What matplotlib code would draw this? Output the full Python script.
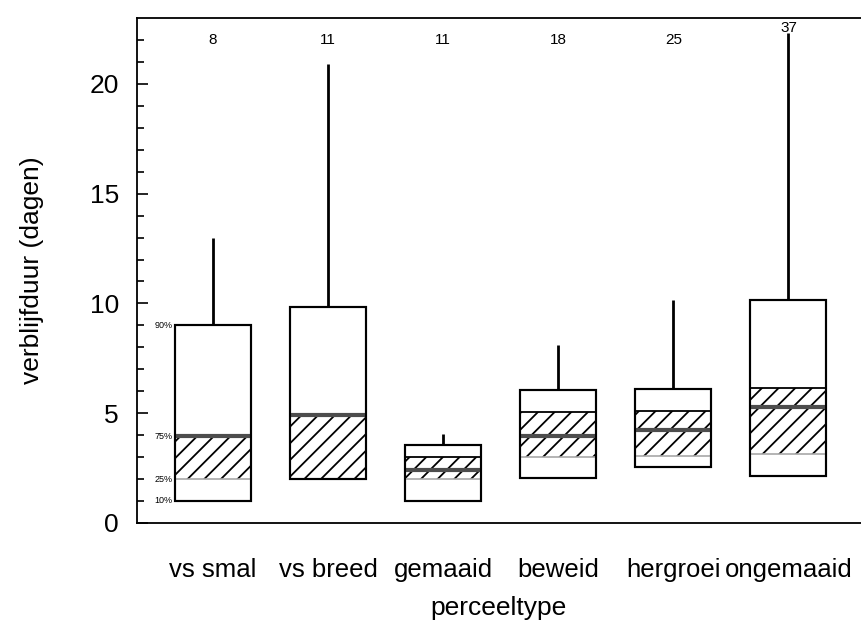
import numpy as np
import matplotlib.pyplot as plt

plt.rcParams['font.family'] = ['Liberation Sans', 'DejaVu Sans']
plt.rcParams['hatch.linewidth'] = 1.3

# data
categories = ['vs smal', 'vs breed', 'gemaaid', 'beweid', 'hergroei', 'ongemaaid']
n_obs = [8, 11, 11, 18, 25, 37]
p10 = [1.0, 2.0, 1.0, 2.05, 2.55, 2.15]
p25 = [2.0, 2.0, 2.0, 3.0, 3.05, 3.15]
median = [3.95, 4.9, 2.4, 3.95, 4.25, 5.3]
p75 = [3.95, 4.9, 3.0, 5.05, 5.1, 6.15]
p90 = [9.0, 9.85, 3.55, 6.05, 6.1, 10.15]
maxval = [13.0, 20.9, 4.05, 8.1, 10.15, 22.3]
pct_labels = ['90%', '75%', '25%', '10%']

x = np.arange(len(categories))
w = 0.66

fig = plt.figure(figsize=(8.61, 6.24), dpi=100)
ax = fig.add_axes([0.159, 0.162, 0.841, 0.809])

# whiskers
ax.vlines(x, p90, maxval, color='black', lw=2, zorder=1)
# outer box 10-90%
ax.bar(x, np.array(p90) - np.array(p10), bottom=p10, width=w,
       facecolor='white', edgecolor='black', lw=1.5, zorder=2)
# hatched 25-75%
ax.bar(x, np.array(p75) - np.array(p25), bottom=p25, width=w,
       facecolor='none', edgecolor='black', hatch='//', lw=0, zorder=3)
ax.hlines(p75, x - w/2, x + w/2, color='black', lw=1.3, zorder=4)
ax.hlines(p25, x - w/2, x + w/2, color='#a8a8a8', lw=1.2, zorder=4)
ax.hlines(median, x - w/2, x + w/2, color='#4d4d4d', lw=3, zorder=5)
# redraw box edges on top
ax.bar(x, np.array(p90) - np.array(p10), bottom=p10, width=w,
       facecolor='none', edgecolor='black', lw=1.5, zorder=6)

# number of observations
for i, n in enumerate(n_obs):
    yy = 22.55 if maxval[i] > 21.5 else 22.0
    ax.text(x[i], yy, str(n), ha='center', va='center', fontsize=11)

# percentile labels next to the first box
for lab, val in zip(pct_labels, [p90[0], p75[0], p25[0], p10[0]]):
    ax.text(-0.35, val, lab, ha='right', va='center', fontsize=6.5)

ax.set_xlim(-0.66, 5.63)
ax.set_ylim(0, 23)
ax.set_yticks([0, 5, 10, 15, 20])
ax.set_yticks(np.arange(0, 23, 1), minor=True)
ax.tick_params(axis='y', which='major', direction='in', length=8, width=1.2,
               labelsize=19, pad=13)
ax.tick_params(axis='y', which='minor', direction='in', length=5, width=1.2)
ax.set_xticks(x)
ax.set_xticklabels(categories)
ax.tick_params(axis='x', length=0, labelsize=18.5, pad=25)

ax.spines['right'].set_visible(False)
for s in ['left', 'bottom', 'top']:
    ax.spines[s].set_linewidth(1.3)

ax.set_ylabel('verblijfduur (dagen)', fontsize=19, labelpad=33)
ax.set_xlabel('perceeltype', fontsize=19, labelpad=10)

fig.savefig('out.png', dpi=100)
